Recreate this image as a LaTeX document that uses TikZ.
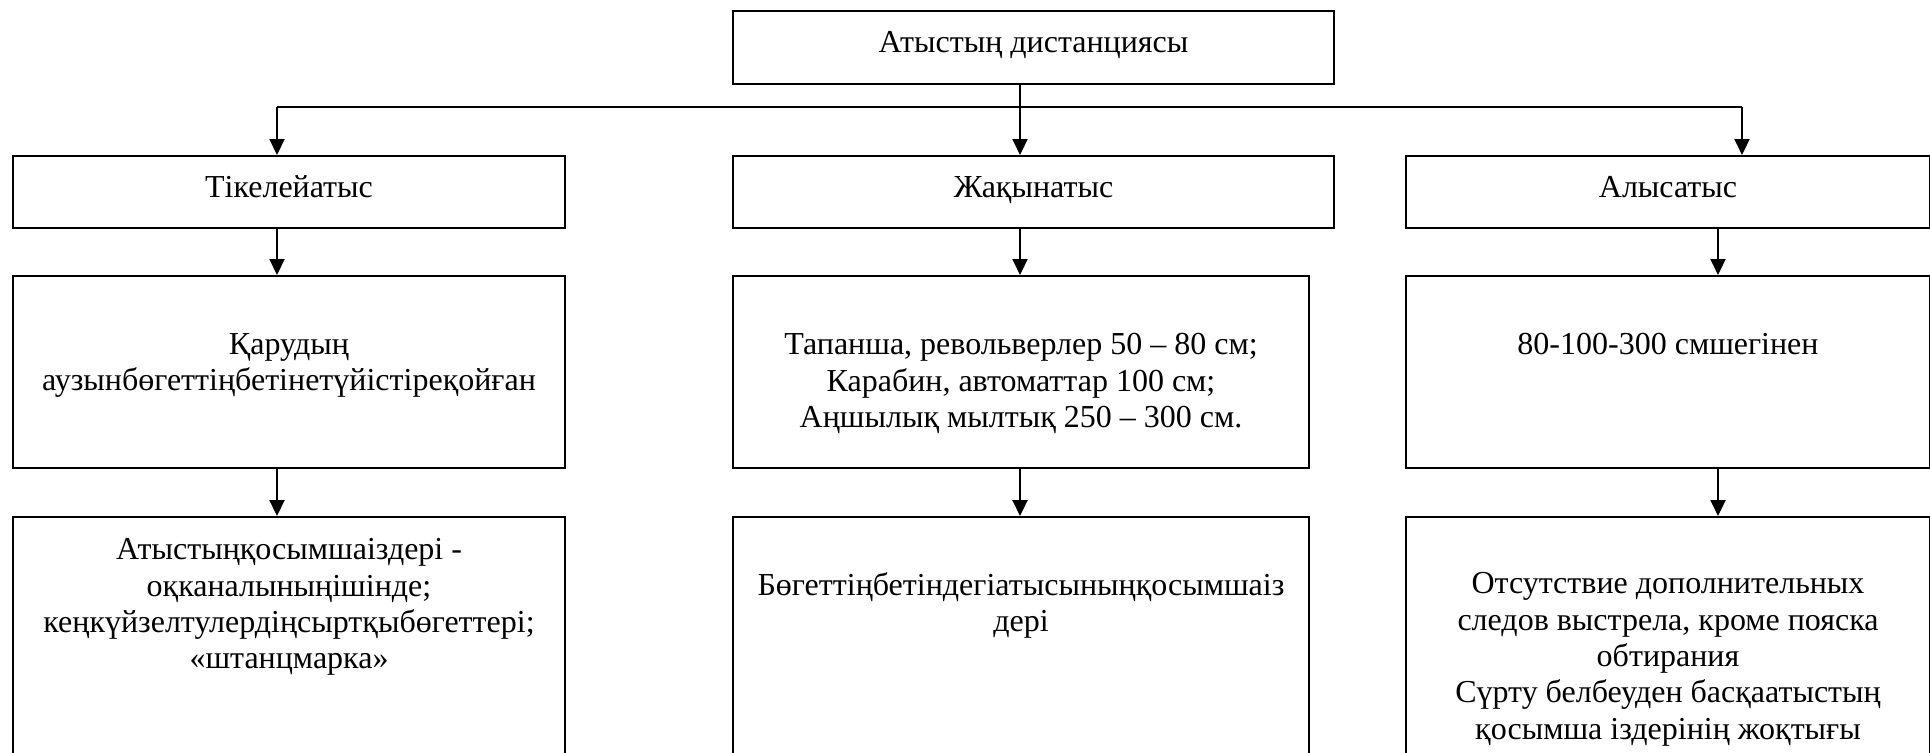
\documentclass[tikz,border=0pt]{standalone}
\usepackage{fontspec}
\setmainfont{Liberation Serif}
\usetikzlibrary{arrows.meta,positioning}

\begin{document}
\begin{tikzpicture}[x=0.5pt, y=-0.5pt,
		box/.style={draw, line width=1pt, inner sep=0pt, anchor=north west, align=center, text height=9pt, text depth=3.6pt, font=\fontsize{16}{18.2}\selectfont},
		txt/.style={inner sep=0pt, anchor=north, align=center, font=\fontsize{16}{18.2}\selectfont},
		arr/.style={-{Triangle[length=8pt,width=7.5pt]}, line width=1pt}]
		\clip (0, 0) rectangle (1930, 752);
		
		\node[box, minimum width=300.5pt, minimum height=36.5pt] (dist) at (732, 10) {Атыстың дистанциясы};
		
		\node[box, minimum width=276pt, minimum height=36pt] (tik) at (12, 155) {Тікелейатыс};
		\node[box, minimum width=300.5pt, minimum height=36pt] (jaq) at (732, 155) {Жақынатыс};
		\node[box, minimum width=262pt, minimum height=36pt] (alys) at (1405, 155) {Алысатыс};
		
		\node[box, minimum width=276pt, minimum height=96pt] (tikd) at (12, 275) {};
		\node[box, minimum width=288pt, minimum height=96pt] (jaqd) at (732, 275) {};
		\node[box, minimum width=262pt, minimum height=96pt] (alysd) at (1405, 275) {};
		
		\node[box, minimum width=276pt, minimum height=130pt] (tikiz) at (12, 516) {};
		\node[box, minimum width=288pt, minimum height=130pt] (jaqiz) at (732, 516) {};
		\node[box, minimum width=262pt, minimum height=130pt] (alysiz) at (1405, 516) {};
		
		\node[txt, below=29pt of tikd.north] (tikdt) {Қарудың\\аузынбөгеттіңбетінетүйістіреқойған};
		\node[txt, below=29pt of jaqd.north] (jaqdt) {Тапанша, револьверлер 50 – 80 см;\\Карабин, автоматтар 100 см;\\Аңшылық мылтық 250 – 300 см.};
		\node[txt, below=29pt of alysd.north] (alysdt) {80-100-300 смшегінен};
		
		\node[txt, below=11pt of tikiz.north] (tikizt) {Атыстыңқосымшаіздері -\\оқканалыныңішінде;\\кеңкүйзелтулердіңсыртқыбөгеттері;\\«штанцмарка»};
		\node[txt, below=28pt of jaqiz.north] (jaqizt) {Бөгеттіңбетіндегіатысыныңқосымшаіз\\дері};
		\node[txt, below=28pt of alysiz.north] (alysizt) {Отсутствие дополнительных\\следов выстрела, кроме пояска\\обтирания\\Сүрту белбеуден басқаатыстың\\қосымша іздерінің жоқтығы};
		
		\coordinate (jl) at (277, 107);
		\coordinate (jm) at (1020, 107);
		\coordinate (jr) at (1742, 107);
		
		\draw[line width=1pt] (jm |- dist.south) -- (jm);
		\draw[line width=1pt] (jl) -- (jr);
		\draw[arr] (jl) -- (jl |- tik.north);
		\draw[arr] (jm) -- (jm |- jaq.north);
		\draw[arr] (jr) -- (jr |- alys.north);
		
		\draw[arr] (jl |- tik.south) -- (jl |- tikd.north);
		\draw[arr] (jm |- jaq.south) -- (jm |- jaqd.north);
		\draw[arr] ([xshift=25pt]alys.south) -- ([xshift=25pt]alysd.north);
		
		\draw[arr] (jl |- tikd.south) -- (jl |- tikiz.north);
		\draw[arr] (jm |- jaqd.south) -- (jm |- jaqiz.north);
		\draw[arr] ([xshift=25pt]alysd.south) -- ([xshift=25pt]alysiz.north);
	\end{tikzpicture}
\end{document}
